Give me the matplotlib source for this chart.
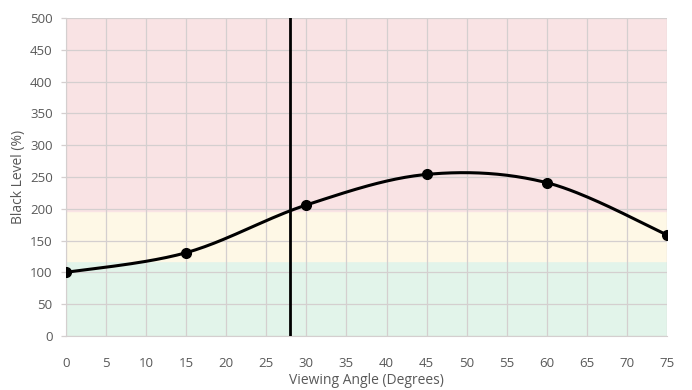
import numpy as np
import matplotlib.pyplot as plt

# Measured points
angles = [0, 15, 30, 45, 60, 75]
black_level = [100, 131, 206, 254, 241, 159]

# Threshold bands (percent)
green_top = 118
yellow_top = 196
y_max = 500
cutoff_angle = 28

x_ticks = list(range(0, 80, 5))
y_ticks = list(range(0, 550, 50))


def smooth_curve(xs, ys, n=40):
    # Excel-style smoothed line: cubic Bezier segments with Catmull-Rom controls
    xs = np.asarray(xs, float)
    ys = np.asarray(ys, float)
    px = np.concatenate([[xs[0]], xs, [xs[-1]]])
    py = np.concatenate([[ys[0]], ys, [ys[-1]]])
    out_x, out_y = [], []
    t = np.linspace(0, 1, n)
    for i in range(1, len(px) - 2):
        p0 = np.array([px[i], py[i]])
        p3 = np.array([px[i + 1], py[i + 1]])
        c1 = p0 + (np.array([px[i + 1], py[i + 1]]) - np.array([px[i - 1], py[i - 1]])) / 6
        c2 = p3 - (np.array([px[i + 2], py[i + 2]]) - np.array([px[i], py[i]])) / 6
        b = ((1 - t) ** 3)[:, None] * p0 + (3 * (1 - t) ** 2 * t)[:, None] * c1 \
            + (3 * (1 - t) * t ** 2)[:, None] * c2 + (t ** 3)[:, None] * p3
        out_x.extend(b[:, 0])
        out_y.extend(b[:, 1])
    return out_x, out_y


plt.rcParams['font.family'] = ['Open Sans', 'DejaVu Sans']
text_color = '#595959'
grid_color = '#d4cfcf'

fig = plt.figure(figsize=(6.92, 3.90), dpi=100)
ax = fig.add_axes([0.0954, 0.1385, 0.8685, 0.8155])

ax.axhspan(0, green_top, color='#e2f4ea', zorder=0)
ax.axhspan(green_top, yellow_top, color='#fef8e6', zorder=0)
ax.axhspan(yellow_top, y_max, color='#f9e3e4', zorder=0)

sx, sy = smooth_curve(angles, black_level)
ax.plot(sx, sy, color='black', linewidth=2.2, zorder=3)
ax.plot(angles, black_level, 'o', color='black', markersize=7, zorder=4)
ax.axvline(cutoff_angle, color='black', linewidth=2, zorder=3)

ax.set_xlim(0, 75)
ax.set_ylim(0, y_max)
ax.set_xticks(x_ticks)
ax.set_yticks(y_ticks)
ax.grid(True, color=grid_color, linewidth=0.9, zorder=1)
ax.set_axisbelow(True)
for s in ax.spines.values():
    s.set_visible(False)
ax.spines['bottom'].set_visible(True)
ax.spines['bottom'].set_color(grid_color)
ax.spines['left'].set_visible(True)
ax.spines['left'].set_color(grid_color)
ax.tick_params(axis='x', length=0, labelsize=9.5, colors=text_color, pad=15)
ax.tick_params(axis='y', length=3.6, width=0.9, color=grid_color,
               labelsize=9.5, labelcolor=text_color, pad=6)
ax.set_xlabel('Viewing Angle (Degrees)', fontsize=10, color=text_color, labelpad=2)
ax.set_ylabel('Black Level (%)', fontsize=10, color=text_color, labelpad=3)

fig.savefig('out.png', dpi=100)
